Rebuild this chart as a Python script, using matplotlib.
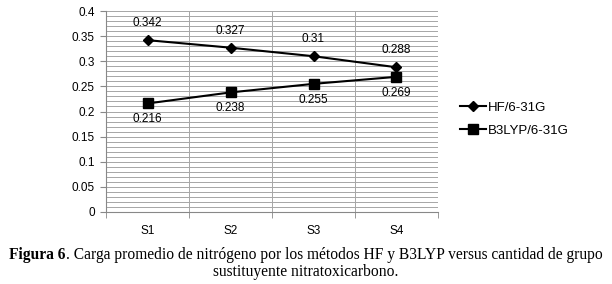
import matplotlib
matplotlib.use("Agg")
import matplotlib.pyplot as plt
from matplotlib.ticker import MultipleLocator

categories = ["S1", "S2", "S3", "S4"]
hf_values = [0.342, 0.327, 0.31, 0.288]
b3lyp_values = [0.216, 0.238, 0.255, 0.269]
series_names = ["HF/6-31G", "B3LYP/6-31G"]
y_ticks = [0, 0.05, 0.1, 0.15, 0.2, 0.25, 0.3, 0.35, 0.4]
y_tick_labels = ["0", "0.05", "0.1", "0.15", "0.2", "0.25", "0.3", "0.35", "0.4"]

fig = plt.figure(figsize=(6.12, 2.84), dpi=100)
ax = fig.add_axes([106/612, 1-212/284, 332/612, 201/284])
x = list(range(len(categories)))
grid_c = "#a6a6a6"

ax.set_xlim(-0.5, len(categories)-0.5)
ax.set_ylim(0, 0.4)
ax.yaxis.set_minor_locator(MultipleLocator(0.01))
ax.set_yticks(y_ticks)
ax.set_yticklabels(y_tick_labels)
ax.set_xticks(x)
ax.set_xticklabels(categories)
ax.set_xticks([i + 0.5 for i in range(-1, len(categories))], minor=True)
ax.grid(True, which="both", axis="y", color=grid_c, lw=0.7)
ax.grid(True, which="minor", axis="x", color=grid_c, lw=0.7)
ax.set_axisbelow(True)
for s in ["top", "right"]:
    ax.spines[s].set_visible(False)
for s in ["left", "bottom"]:
    ax.spines[s].set_color("#888888")
    ax.spines[s].set_linewidth(0.8)
ax.tick_params(axis="x", which="major", length=0, labelsize=8.5, pad=9)
ax.tick_params(axis="x", which="minor", length=4, color="#888888")
ax.tick_params(axis="y", which="major", length=4, color="#888888", labelsize=8.5, pad=4)
ax.tick_params(axis="y", which="minor", length=0)
for lab in ax.get_xticklabels() + ax.get_yticklabels():
    lab.set_fontfamily("Liberation Sans")

ax.plot(x, hf_values, color="black", lw=1.5, marker="D", ms=5, label=series_names[0])
ax.plot(x, b3lyp_values, color="black", lw=1.5, marker="s", ms=7.5, label=series_names[1])
for xi, v in zip(x, hf_values):
    ax.annotate(f"{v:g}", (xi, v), xytext=(0, 8), textcoords="offset points",
                ha="center", va="bottom", fontsize=8.5, family="Liberation Sans")
for xi, v in zip(x, b3lyp_values):
    ax.annotate(f"{v:g}", (xi, v), xytext=(0, -7), textcoords="offset points",
                ha="center", va="top", fontsize=8.5, family="Liberation Sans")

leg = fig.legend(loc="center left", bbox_to_anchor=(448/612, 1-119/284), frameon=False,
                 prop={"family": "Liberation Sans", "size": 9.5}, handlelength=2.0,
                 handletextpad=0.1, labelspacing=0.8)

# caption
fig.canvas.draw()
r = fig.canvas.get_renderer()
cap_font = "Liberation Serif"
cap_size = 11.2
bold = "Figura 6"
rest = ". Carga promedio de nitrógeno por los métodos HF y B3LYP versus cantidad de grupo"
t1 = fig.text(0, 1-255/284, bold, fontsize=cap_size, fontweight="bold", family=cap_font, va="center")
t2 = fig.text(0, 1-255/284, rest, fontsize=cap_size, family=cap_font, va="center")
w1 = t1.get_window_extent(r).width
w2 = t2.get_window_extent(r).width
start = (612 - (w1 + w2)) / 2
t1.set_x(start/612)
t2.set_x((start + w1)/612)
fig.text(0.5, 1-272/284, "sustituyente nitratoxicarbono.", fontsize=cap_size, family=cap_font,
         va="center", ha="center")

fig.savefig("out.png", dpi=100)
